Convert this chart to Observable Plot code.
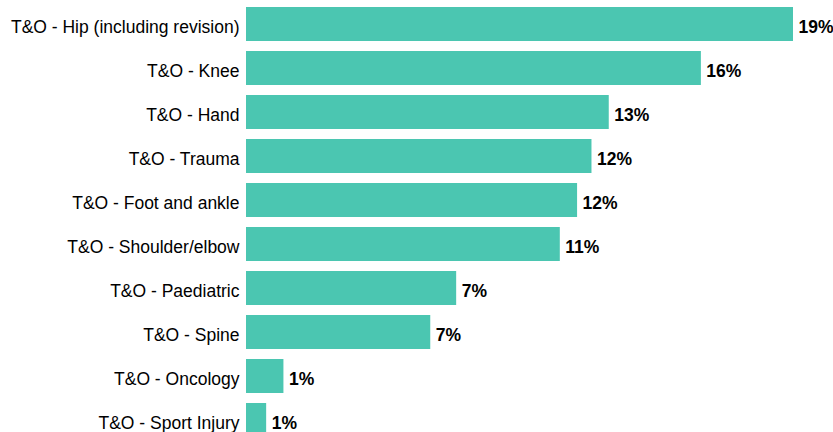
<!DOCTYPE html>
<html>
<head>
<meta charset="utf-8">
<script src="https://cdn.jsdelivr.net/npm/d3@7"></script>
<script src="https://cdn.jsdelivr.net/npm/@observablehq/plot@0.6"></script>
<style>
  html, body { margin: 0; padding: 0; background: #fff; overflow: hidden; }
  #chart svg { display: block; }
</style>
</head>
<body>
<div id="chart"></div>
<script>
const categories = [
  "T&O - Hip (including revision)",
  "T&O - Knee",
  "T&O - Hand",
  "T&O - Trauma",
  "T&O - Foot and ankle",
  "T&O - Shoulder/elbow",
  "T&O - Paediatric",
  "T&O - Spine",
  "T&O - Oncology",
  "T&O - Sport Injury"
];
const values = [19.0, 15.8, 12.6, 12.0, 11.5, 10.9, 7.3, 6.4, 1.3, 0.7];
const valueLabels = ["19%", "16%", "13%", "12%", "12%", "11%", "7%", "7%", "1%", "1%"];

const data = categories.map((c, i) => ({category: c, value: values[i], label: valueLabels[i]}));

const chart = Plot.plot({
  width: 833,
  height: 442,
  marginTop: 2,
  marginBottom: 0,
  marginLeft: 246,
  marginRight: 40,
  style: {fontFamily: "Liberation Sans, Arial, sans-serif", fontSize: "17.5px", color: "#000"},
  x: {domain: [0, 19], axis: null},
  y: {domain: categories, padding: 0, axis: null},
  marks: [
    Plot.barX(data, {x: "value", y: "category", fill: "#4BC6B1", insetTop: 5, insetBottom: 5}),
    Plot.text(data, {x: 0, y: "category", text: "category", textAnchor: "end", dx: -7, dy: 2.4, fill: "#000", fontSize: 17.5}),
    Plot.text(data, {x: "value", y: "category", text: "label", textAnchor: "start", dx: 5, dy: 2.4, fill: "#000", fontSize: 17.5, fontWeight: "bold"})
  ]
});
document.getElementById("chart").appendChild(chart);
</script>
</body>
</html>
